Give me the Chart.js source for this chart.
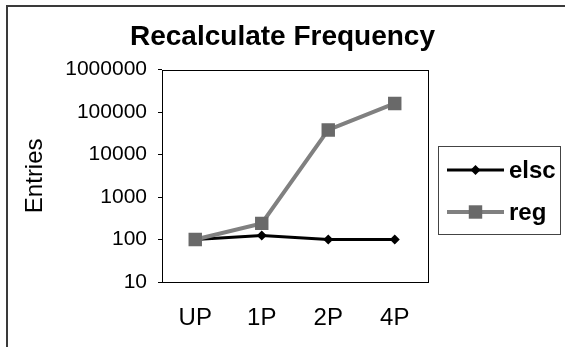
<!DOCTYPE html>
<html>
<head>
<meta charset="utf-8">
<script src="https://cdn.jsdelivr.net/npm/chart.js@4/dist/chart.umd.min.js"></script>
<style>
  body { margin: 0; background: #fff; }
  #wrap { width: 565px; height: 347px; }
</style>
</head>
<body>
<div id="wrap"><canvas id="freqChart" width="565" height="347"></canvas></div>
<script>
// chart data
const categories = ["UP", "1P", "2P", "4P"];
const elscValues = [100, 125, 100, 100];
const regValues = [100, 240, 38000, 160000];
const yTicks = [10, 100, 1000, 10000, 100000, 1000000];
const seriesNames = ["elsc", "reg"];

const FONT = "'Liberation Sans', Arial, sans-serif";

// outer frame, plot box and legend drawn by hand
const decorPlugin = {
  id: "decor",
  beforeDraw(chart) {
    const ctx = chart.ctx;
    ctx.save();
    ctx.fillStyle = "#fff";
    ctx.fillRect(0, 0, chart.width, chart.height);
    ctx.strokeStyle = "#3a3a3a";
    ctx.lineWidth = 2;
    ctx.beginPath();
    ctx.moveTo(7, chart.height);
    ctx.lineTo(7, 6);
    ctx.lineTo(chart.width, 6);
    ctx.stroke();
    ctx.restore();
  },
  beforeDatasetsDraw(chart) {
    const ctx = chart.ctx;
    const a = chart.chartArea;
    ctx.save();
    ctx.strokeStyle = "#000";
    ctx.lineWidth = 1;
    ctx.strokeRect(Math.round(a.left) + 0.5, Math.round(a.top) + 0.5,
      Math.round(a.right - a.left), Math.round(a.bottom - a.top));
    ctx.restore();
  },
  afterDraw(chart) {
    const ctx = chart.ctx;
    ctx.save();
    ctx.strokeStyle = "#444";
    ctx.lineWidth = 1;
    ctx.strokeRect(438.5, 146.5, 122, 88);

    const rows = [170, 212];
    chart.data.datasets
      .slice()
      .sort((a, b) => seriesNames.indexOf(a.label) - seriesNames.indexOf(b.label))
      .forEach((ds, i) => {
        const y = rows[i];
        ctx.strokeStyle = ds.borderColor;
        ctx.lineWidth = ds.borderWidth;
        ctx.beginPath();
        ctx.moveTo(447, y);
        ctx.lineTo(504, y);
        ctx.stroke();
        const cx = 475.5;
        ctx.fillStyle = ds.pointBackgroundColor;
        ctx.beginPath();
        if (ds.pointStyle === "rectRot") {
          const r = ds.pointRadius;
          ctx.moveTo(cx - r, y);
          ctx.lineTo(cx, y - r);
          ctx.lineTo(cx + r, y);
          ctx.lineTo(cx, y + r);
          ctx.closePath();
        } else {
          const h = ds.pointRadius * Math.SQRT1_2;
          ctx.rect(cx - h, y - h, 2 * h, 2 * h);
        }
        ctx.fill();
        ctx.fillStyle = "#000";
        ctx.font = "bold 24px " + FONT;
        ctx.textBaseline = "middle";
        ctx.textAlign = "left";
        ctx.fillText(ds.label, 509, y + 1);
      });
    ctx.restore();
  }
};

const ctx = document.getElementById("freqChart").getContext("2d");
const chart = new Chart(ctx, {
  type: "line",
  data: {
    labels: categories,
    datasets: [
      {
        label: "elsc",
        data: elscValues,
        borderColor: "#000",
        borderWidth: 3,
        pointStyle: "rectRot",
        pointRadius: 5,
        pointBackgroundColor: "#000",
        pointBorderColor: "#000",
        pointBorderWidth: 0,
        tension: 0,
        order: 1,
      },
      {
        label: "reg",
        data: regValues,
        borderColor: "#808080",
        borderWidth: 4,
        pointStyle: "rect",
        pointRadius: 9.5,
        pointBackgroundColor: "#696969",
        pointBorderColor: "#696969",
        pointBorderWidth: 0,
        tension: 0,
        order: 0,
      },
    ],
  },
  options: {
    responsive: false,
    animation: false,
    layout: { padding: 0 },
    plugins: {
      legend: { display: false },
      tooltip: { enabled: false },
      title: {
        display: true,
        text: "Recalculate Frequency",
        color: "#000",
        font: { family: FONT, size: 28, weight: "bold", lineHeight: 1.2 },
        padding: { top: 20, bottom: 16 },
      },
    },
    scales: {
      x: {
        offset: true,
        grid: { display: false, drawTicks: false },
        border: { display: false },
        ticks: {
          color: "#000",
          padding: 22,
          maxRotation: 0,
          font: { family: FONT, size: 24 },
        },
        afterFit: (s) => { s.height = 65; },
      },
      y: {
        type: "logarithmic",
        min: 10,
        max: 1000000,
        grid: {
          display: true,
          drawOnChartArea: false,
          drawTicks: true,
          tickLength: 4,
          color: "#000",
        },
        border: { display: false },
        ticks: {
          color: "#000",
          padding: 11,
          font: { family: FONT, size: 21 },
          callback: (v) => String(v),
        },
        afterBuildTicks: (s) => { s.ticks = yTicks.map((v) => ({ value: v })); },
        title: {
          display: true,
          text: "Entries",
          color: "#000",
          font: { family: FONT, size: 24 },
          padding: { top: 21, bottom: 0 },
        },
        afterFit: (s) => { s.width = 162; },
      },
      // empty right-hand scale keeps room for the legend
      spacer: {
        type: "linear",
        position: "right",
        grid: { display: false, drawTicks: false },
        border: { display: false },
        ticks: { display: false },
        afterFit: (s) => { s.width = 137; },
      },
    },
  },
  plugins: [decorPlugin],
});
</script>
</body>
</html>
